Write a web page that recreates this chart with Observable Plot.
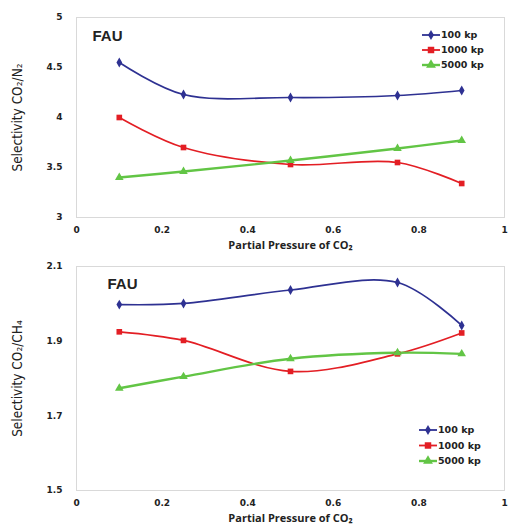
<!DOCTYPE html>
<html>
<head>
<meta charset="utf-8">
<script src="https://cdn.jsdelivr.net/npm/d3@7"></script>
<script src="https://cdn.jsdelivr.net/npm/@observablehq/plot@0.6"></script>
<style>
  html, body { margin: 0; padding: 0; background: #fff; }
  #root { width: 508px; }
  .chart { position: relative; width: 508px; }
  .legend { position: absolute; left: 0; top: 0; overflow: visible; }
</style>
</head>
<body>
<div id="root"></div>
<script>
// ---- data ----
const pressures = [0.1, 0.25, 0.5, 0.75, 0.9];
const seriesNames = ["100 kp", "1000 kp", "5000 kp"];
const seriesColors = ["#2e3192", "#e31e24", "#62c545"];
const seriesSymbols = ["diamond", "square", "triangle"];

const n2_100 = [4.55, 4.23, 4.20, 4.22, 4.27];
const n2_1000 = [4.00, 3.70, 3.53, 3.55, 3.34];
const n2_5000 = [3.40, 3.46, 3.57, 3.69, 3.77];

const ch4_100 = [1.998, 2.001, 2.037, 2.057, 1.942];
const ch4_1000 = [1.925, 1.902, 1.819, 1.866, 1.922];
const ch4_5000 = [1.774, 1.805, 1.853, 1.869, 1.866];

const xTicks = [0, 0.2, 0.4, 0.6, 0.8, 1];
const yTicksN2 = [3, 3.5, 4, 4.5, 5];
const yTicksCH4 = [1.5, 1.7, 1.9, 2.1];

const xLabel = "Partial Pressure of CO\u2082";
const yLabelN2 = "Selectivity CO\u2082/N\u2082";
const yLabelCH4 = "Selectivity CO\u2082/CH\u2084";
const panelTitle = "FAU";

function rows(valueArrays) {
  const out = [];
  valueArrays.forEach((vals, si) => {
    vals.forEach((v, i) => out.push({x: pressures[i], y: v, s: seriesNames[si]}));
  });
  return out;
}

const tickFont = "DejaVu Sans, Verdana, sans-serif";

function makeChart(cfg) {
  const data = rows(cfg.values);
  const plot = Plot.plot({
    width: 508,
    height: cfg.height,
    marginTop: cfg.marginTop,
    marginBottom: cfg.marginBottom,
    marginLeft: 76,
    marginRight: 4,
    style: {background: "#fff", fontFamily: tickFont, overflow: "visible"},
    x: {domain: [0, 1], ticks: xTicks, tickFormat: d => String(d)},
    y: {domain: cfg.yDomain, ticks: cfg.yTicks, tickFormat: d => String(d)},
    color: {domain: seriesNames, range: seriesColors},
    symbol: {domain: seriesNames, range: seriesSymbols},
    marks: [
      Plot.frame({stroke: "#d9d9d9", strokeWidth: 1}),
      Plot.axisX({ticks: xTicks, tickSize: 0, tickPadding: 9, label: null,
        fontWeight: "bold", fontSize: 9, fill: "#222", tickFormat: d => String(d)}),
      Plot.axisY({ticks: cfg.yTicks, tickSize: 0, tickPadding: 14, label: null,
        fontWeight: "bold", fontSize: 9, fill: "#222", tickFormat: d => String(d)}),
      ...seriesNames.map((name, i) =>
        Plot.line(data.filter(d => d.s === name), {x: "x", y: "y", stroke: "s", curve: "catmull-rom",
          strokeWidth: i === 2 ? 2.4 : 1.7})),
      Plot.dot(data, {x: "x", y: "y", fill: "s", symbol: "s", r: d => d.s === "100 kp" ? 3.2 : 3.6, stroke: "none"}),
      Plot.text([cfg.yLabel], {frameAnchor: "left", dx: -59, rotate: -90, textAnchor: "middle",
        fontFamily: "Liberation Sans Narrow, DejaVu Sans Condensed, Arial Narrow, sans-serif",
        fontSize: 13.5, fill: "#222"}),
      Plot.text([xLabel], {frameAnchor: "bottom", dy: cfg.xLabelDy, textAnchor: "middle",
        fontFamily: "Open Sans, DejaVu Sans, sans-serif", fontWeight: "bold", fontSize: 11, fill: "#222"}),
      Plot.text([panelTitle], {frameAnchor: "top-left", dx: cfg.titleDx, dy: cfg.titleDy, textAnchor: "start",
        fontFamily: "Liberation Sans, Arial, sans-serif", fontWeight: "bold", fontSize: 15, fill: "#222"})
    ]
  });
  const wrap = document.createElement("div");
  wrap.className = "chart";
  wrap.style.height = cfg.height + "px";
  wrap.appendChild(plot);

  // legend (drawn over the plot, inside the frame)
  const lg = d3.create("svg").attr("class", "legend")
    .attr("width", 508).attr("height", cfg.height);
  seriesNames.forEach((name, i) => {
    const y = cfg.legend.y0 + i * cfg.legend.step;
    const g = lg.append("g");
    g.append("line").attr("x1", cfg.legend.x0).attr("x2", cfg.legend.x0 + 18)
      .attr("y1", y).attr("y2", y).attr("stroke", seriesColors[i])
      .attr("stroke-width", i === 2 ? 2.4 : 1.8);
    const sym = [d3.symbolDiamond, d3.symbolSquare, d3.symbolTriangle][i];
    const size = [30, 42, 42][i];
    g.append("path").attr("d", d3.symbol(sym, size)())
      .attr("transform", `translate(${cfg.legend.x0 + 9},${y})`)
      .attr("fill", seriesColors[i]);
    g.append("text").attr("x", cfg.legend.x0 + 19).attr("y", y).attr("dy", "0.35em")
      .attr("font-family", tickFont).attr("font-weight", "bold").attr("font-size", 9.5)
      .attr("fill", "#222").text(name);
  });
  wrap.appendChild(lg.node());
  return wrap;
}

const root = document.getElementById("root");
root.appendChild(makeChart({
  values: [n2_100, n2_1000, n2_5000],
  height: 255, marginTop: 17, marginBottom: 38,
  yDomain: [3, 5], yTicks: yTicksN2, yLabel: yLabelN2,
  xLabelDy: 31, titleDx: 16, titleDy: 13,
  legend: {x0: 422, y0: 35, step: 15}
}));
root.appendChild(makeChart({
  values: [ch4_100, ch4_1000, ch4_5000],
  height: 272, marginTop: 11, marginBottom: 37,
  yDomain: [1.5, 2.1], yTicks: yTicksCH4, yLabel: yLabelCH4,
  xLabelDy: 31, titleDx: 31, titleDy: 12,
  legend: {x0: 419, y0: 175, step: 15.5}
}));
</script>
</body>
</html>
